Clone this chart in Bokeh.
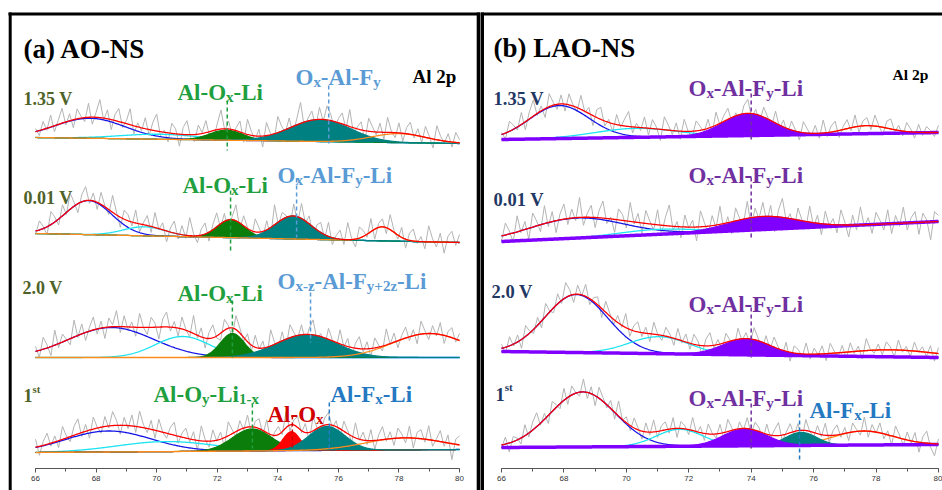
import numpy as np
from bokeh.plotting import figure
from bokeh.models import ColumnDataSource, Range1d, LinearAxis, SingleIntervalTicker
from bokeh.layouts import row
from bokeh.embed import file_html
from bokeh.resources import INLINE
from bokeh.core.properties import value, field

# ======================= DATA =======================
x_min, x_max = 66, 80

# ---------- panel (a) AO-NS ----------
a_title = "(a) AO-NS"
a_core = "Al 2p"
a_voltages = ["1.35 V", "0.01 V", "2.0 V", "1st"]

a135_kind = ["blue", "cyan", "green", "teal", "orange"]
a135_center = [67.8, 70.1, 72.3, 75.4, 78.0]
a135_height = [20, 5, 10, 22, 9]
a135_sigma = [1.15, 1.3, 0.55, 1.0, 0.9]
a135_base = [137, 143]
a135_noise = [3,-5,8,-2,12,-6,4,15,-3,7,-8,10,2,-4,14,-7,5,18,-2,9,-10,6,13,-5,3,16,-8,4,-3,11,-6,8,17,-4,2,-9,10,5,-12,7,14,-3,-7,9,1,12,-5,-10,6,19,-2,8,-6,3,11,-9,15,4,-4,7,-11,13,2,-6,16,5,-3,10,-8,6,21,-5,3,9,-7,12,-2,14,6,-9,4,11,-4,17,-6,2,8,-10,13,5,-3,9,-7,15,1,-5,10,-8,6,12,-3,7,-6,11,2,-9,14,4,-2,8,-5,10,3]

a001_kind = ["blue", "cyan", "green", "teal", "orange"]
a001_center = [67.75, 69.6, 72.45, 74.5, 77.45]
a001_height = [34, 9, 18, 23, 14]
a001_sigma = [0.77, 0.7, 0.45, 0.6, 0.4]
a001_base = [233, 242]
a001_noise = [-4,9,2,-8,13,5,-6,11,-2,16,4,-9,7,14,-3,8,-7,12,1,-5,17,3,-10,9,6,-4,13,-8,2,10,-6,15,-1,7,-11,4,12,-5,9,-3,18,2,-7,6,11,-9,5,14,-4,8,-12,3,16,-6,10,1,-8,13,4,-5,9,-10,20,-3,7,2,-9,12,-6,15,-2,8,-11,5,10,-4,14,-7,3,9,-5,17,1,-8,11,6,-3,13,-10,4,8,-6,15,2,-4,10,-9,7,12,-2,5,-7,16,3,-5,9,-11,6,11,-3,8]

a20_kind = ["blue", "cyan", "green", "teal", "orange"]
a20_center = [68.5, 70.85, 72.5, 74.95, 79.0]
a20_height = [30, 21, 24, 23, 24]
a20_sigma = [1.4, 0.9, 0.4, 1.0, 1.2]
a20_base = [357, 357]
a20_noise = [5,-7,12,3,-9,15,-4,8,1,-6,17,-2,10,-8,4,13,-5,7,-11,9,2,16,-6,11,-3,5,-9,14,0,-7,10,4,-12,8,15,-4,6,-8,12,1,-5,18,-3,9,-10,6,13,-2,-7,11,3,-9,14,5,-4,8,-6,12,-1,7,-11,16,2,-5,9,-8,13,4,-3,10,-7,6,15,-4,3,-9,11,1,-6,14,-2,8,-10,5,12,-3,7,-8,10,2,-5,16,-1,9,-7,4,11,-4,6,-9,13,3,-6,8,-2,12,-8,5,10,-3,7]

a1st_kind = ["blue", "cyan", "green", "red", "teal", "orange"]
a1st_center = [68.4, 70.3, 73.15, 74.45, 75.62, 78.2]
a1st_height = [21, 10, 22, 19, 24, 12]
a1st_sigma = [1.42, 1.6, 0.65, 0.28, 0.6, 1.3]
a1st_base = [452, 449]
a1st_noise = [8,-9,4,11,-3,6,-7,13,2,-5,9,15,-4,7,-8,12,1,-6,10,-2,14,5,-9,8,-3,11,-6,16,3,-4,9,-8,12,0,-5,7,13,-7,4,10,-3,8,-10,15,2,-6,11,-1,7,-9,14,4,-5,9,-2,12,-7,6,10,-4,13,-8,3,8,-3,16,-6,5,11,-2,9,-9,14,1,-5,7,12,-3,6,-8,10,3,-6,15,-1,8,-4,11,-9,5,13,-2,7,-7,10,4,-5,12,-10,6,9,-3,14,-6,2,11,-4,8,-16,5,9]

# marker positions (eV) of the assigned species
a135_marks = [72.33, 75.68]
a001_marks = [72.44, 74.62]
a20_marks = [72.5, 75.08]
a1st_marks = [73.16, 74.48, 75.7]

# ---------- panel (b) LAO-NS ----------
b_title = "(b) LAO-NS"
b_core = "Al 2p"
b_voltages = ["1.35 V", "0.01 V", "2.0 V", "1st"]

b135_kind = ["blue", "cyan", "orange", "purple"]
b135_center = [67.85, 70.3, 77.7, 73.9]
b135_height = [33, 9, 8, 22]
b135_sigma = [0.95, 1.3, 0.7, 0.8]
b135_base = [139, 132]
b135_noise = [2,-6,10,4,-3,12,-8,7,16,-2,5,-9,13,3,-5,9,-7,11,1,-4,14,-1,6,-10,8,12,-5,3,-8,10,-2,7,15,-6,4,-3,11,-7,9,2,-11,13,5,-4,8,-8,12,0,-6,10,4,-3,9,-7,13,-2,6,11,-5,3,-9,8,14,-4,5,-7,10,2,-5,12,-3,7,-6,9,1,-8,11,4,-2,8,-5,13,-4,6,10,-7,3,9,-3,12,-6,5,8,-4,11,1,-7,7,10,-2,5,-5,9,3,-6,8,-3,6,2,-4,7]

b001_kind = ["blue", "cyan", "purple"]
b001_center = [68.4, 71.0, 74.4]
b001_height = [20, 5, 13]
b001_sigma = [1.5, 1.2, 1.1]
b001_base = [241, 221]
b001_noise = [-5,12,3,-9,16,-2,8,-11,14,5,-7,18,-4,10,-12,6,15,-6,9,-3,20,-8,4,12,-10,7,17,-5,2,-13,11,6,-7,19,-2,9,-10,13,3,-6,15,-9,8,21,-4,5,-11,12,-1,7,-14,16,4,-8,10,-3,18,-7,6,-12,13,2,-5,17,-9,9,-2,14,-6,11,-15,7,19,-3,5,-10,12,1,-7,16,-4,8,-11,13,-1,6,-8,15,3,-12,10,-5,18,-2,7,-9,12,4,-6,14,-10,8,-3,16,-7,5,11,-12,9,2,-18,10,6]

b20_kind = ["blue", "cyan", "orange", "purple"]
b20_center = [68.4, 71.05, 78.5, 73.85]
b20_height = [58, 17, 7, 16]
b20_sigma = [1.0, 0.95, 1.4, 0.75]
b20_base = [351, 357]
b20_noise = [4,-6,9,-2,7,-9,11,2,-4,8,-7,13,1,-5,10,-3,15,6,-8,9,-1,12,-6,4,8,-9,11,3,-5,7,-2,14,-7,5,10,-4,6,-8,12,0,-5,9,3,-7,11,-2,8,-6,10,4,-9,7,13,-3,5,-6,9,1,-8,11,-2,6,-5,12,3,-7,8,-4,10,2,-6,9,-9,7,4,-3,11,-5,6,-1,8,-7,10,2,-4,7,-6,9,-2,5,-8,12,1,-3,6,-5,8,3,-7,10,-2,4,-6,9,-1,5,-4,7,-8,6]

b1st_kind = ["blue", "cyan", "teal", "orange", "purple"]
b1st_center = [68.6, 71.7, 75.6, 77.6, 73.8]
b1st_height = [55, 17, 13, 14, 17]
b1st_sigma = [1.05, 0.75, 0.5, 0.95, 0.7]
b1st_base = [447, 444]
b1st_noise = [-3,7,-9,5,2,-6,11,-4,8,14,-2,6,-8,10,3,-5,12,-7,9,1,-4,13,-6,7,-10,11,4,-3,8,-7,15,-1,6,-5,10,2,-8,9,-3,12,-6,5,8,-4,11,-9,7,3,-5,13,-2,6,-7,10,1,-4,9,-6,12,3,-8,7,-2,11,-5,8,4,-7,10,-3,6,13,-6,2,9,-4,7,-9,11,0,-5,8,-2,12,-7,5,10,-3,6,-8,9,2,-4,14,-6,7,-1,10,-5,4,-9,11,3,-6,8,-2,9,-10,6,12,-4,-12,5]

b135_marks = [74.0]
b001_marks = [74.0]
b20_marks = [74.0]
b1st_marks = [74.0, 75.55]

# ======================= STYLE / LAYOUT =======================
COL = {"blue": "#1414e6", "cyan": "#1ee3f0", "green": "#0b7d0b", "teal": "#008080",
       "orange": "#ff8a1c", "red": "#ff0000", "purple": "#8000ff"}
FILLED = {"green", "teal", "red", "purple"}
GREEN_T, BLUE_T, BLUE2_T, RED_T, PURP_T = "#1f9f3f", "#5b9bd5", "#2479c2", "#d00000", "#7030a0"
OLIVE, NAVY = "#4f6228", "#1f3864"
SERIF = "Liberation Serif"

W = {' ': 250, '(': 333, ')': 333, '-': 333, '.': 250, '+': 570, 'A': 722, 'F': 611, 'L': 667,
     'N': 722, 'O': 778, 'S': 556, 'V': 722, 'a': 500, 'b': 556, 'i': 278, 'l': 278, 'p': 556,
     's': 389, 't': 333, 'x': 500, 'y': 500, 'z': 444}


def tw(s):
    return sum(W.get(c, 500) for c in s)


def px2ev_a(px):
    return 66 + (px - 35) / 30.29


def px2ev_b(px):  # global px
    return 66 + (px - 501) / 31.21


def make_fig(width, x0, x1):
    p = figure(width=width, height=490, x_range=Range1d(x0, x1), y_range=Range1d(490, 0),
               output_backend="svg", toolbar_location=None,
               x_axis_location=None, y_axis_location=None, min_border=0)
    p.min_border_left = p.min_border_right = p.min_border_top = p.min_border_bottom = 0
    p.outline_line_color = None
    p.xgrid.visible = False
    p.ygrid.visible = False
    p.background_fill_color = "white"
    p.border_fill_color = "white"
    ax = LinearAxis(fixed_location=468, ticker=SingleIntervalTicker(interval=2, num_minor_ticks=2),
                    bounds=(x_min, x_max))
    ax.axis_line_color = "#555555"
    ax.major_tick_line_color = "#555555"
    ax.minor_tick_line_color = "#555555"
    ax.major_tick_in = 0
    ax.major_tick_out = 4
    ax.minor_tick_in = 0
    ax.minor_tick_out = 3
    ax.major_label_text_font = "Liberation Sans"
    ax.major_label_text_font_size = "8px"
    ax.major_label_text_color = "#333333"
    ax.major_label_standoff = 3
    p.add_layout(ax, "below")
    return p


def draw_spectrum(p, kinds, cen, hgt, sig, base, noise, order):
    x = np.linspace(x_min, x_max, 500)
    bg = base[0] + (base[1] - base[0]) * (x - x_min) / (x_max - x_min)
    comps = {}
    total = np.zeros_like(x)
    for k, c, h, s in zip(kinds, cen, hgt, sig):
        g = h * np.exp(-0.5 * ((x - c) / s) ** 2)
        comps[k] = g
        total += g
    xr = np.linspace(x_min, x_max, len(noise))
    raw = np.interp(xr, x, bg - total) - np.array(noise, dtype=float)
    p.line(xr, raw, line_color="#b4b4b4", line_width=1)
    for k in order:
        if k not in comps:
            continue
        g = comps[k]
        if k in FILLED:
            p.varea(x=x, y1=bg, y2=bg - g, fill_color=COL[k])
            p.line(x, bg - g, line_color=COL[k], line_width=1.2)
            if k == "purple":
                p.line(x, bg, line_color=COL[k], line_width=3.5)
        else:
            p.line(x, bg - g, line_color=COL[k], line_width=1.3)
    p.line(x, bg - total, line_color=COL["red"], line_width=1.3)


def add_rich(rows, segs, x0_px, y0, size, color, conv):
    off = 0.0
    for txt, mode in segs:
        if mode == 0:
            fs, dy = size, 0
        elif mode == 1:
            fs, dy = size * 0.65, size * 0.18
        else:
            fs, dy = size * 0.6, -size * 0.38
        rows["x"].append(conv(x0_px + off))
        rows["y"].append(y0 + dy)
        rows["text"].append(txt)
        rows["size"].append(f"{fs:.1f}px")
        rows["color"].append(color)
        off += tw(txt) * fs / 1000.0


def draw_marks(p, xs, y0s, y1s, colors):
    p.segment(x0=xs, y0=y0s, x1=xs, y1=y1s, line_color=colors, line_width=1.5, line_dash="4 3")


def draw_text(p, rows):
    src = ColumnDataSource(rows)
    p.text(x="x", y="y", text="text", source=src, text_font=value(SERIF), text_font_style="bold",
           text_font_size=field("size"), text_color=field("color"),
           text_baseline="alphabetic", text_align="left")


def volt_segs(v):
    return [("1", 0), ("st", 2)] if v == "1st" else [(v, 0)]


# ======================= PANEL A =======================
pa = make_fig(480, px2ev_a(0), px2ev_a(480))
order_a = ["blue", "cyan", "green", "red", "teal", "orange"]
for kd, c, h, s, b, n in [(a135_kind, a135_center, a135_height, a135_sigma, a135_base, a135_noise),
                          (a001_kind, a001_center, a001_height, a001_sigma, a001_base, a001_noise),
                          (a20_kind, a20_center, a20_height, a20_sigma, a20_base, a20_noise),
                          (a1st_kind, a1st_center, a1st_height, a1st_sigma, a1st_base, a1st_noise)]:
    draw_spectrum(pa, kd, c, h, s, b, n, order_a)

draw_marks(pa,
           a135_marks + a001_marks + a20_marks + a1st_marks,
           [100, 85, 190, 178, 300, 285, 403, 415, 402],
           [150, 143, 250, 237, 357, 342, 448, 448, 448],
           [GREEN_T, BLUE_T, GREEN_T, BLUE_T, GREEN_T, BLUE_T, GREEN_T, RED_T, BLUE2_T])

# frame
pa.segment(x0=[px2ev_a(8)], y0=[13.5], x1=[px2ev_a(480)], y1=[13.5], line_color="black", line_width=3)
pa.segment(x0=[px2ev_a(9.7), px2ev_a(478.2)], y0=[12, 12], x1=[px2ev_a(9.7), px2ev_a(478.2)],
           y1=[490, 490], line_color="black", line_width=[3, 4])

ra = {"x": [], "y": [], "text": [], "size": [], "color": []}
add_rich(ra, [(a_title, 0)], 23, 48, 27, "black", px2ev_a)
add_rich(ra, [(a_core, 0)], 412, 76, 19, "black", px2ev_a)
for v, (xx, yy) in zip(a_voltages, [(23, 98), (23, 197), (22, 287), (23, 395)]):
    add_rich(ra, volt_segs(v), xx, yy, 18, OLIVE, px2ev_a)
AlOxLi = [("Al-O", 0), ("x", 1), ("-Li", 0)]
add_rich(ra, AlOxLi, 177, 92, 23, GREEN_T, px2ev_a)
add_rich(ra, [("O", 0), ("x", 1), ("-Al-F", 0), ("y", 1)], 295, 77, 23, BLUE_T, px2ev_a)
add_rich(ra, AlOxLi, 182, 185, 23, GREEN_T, px2ev_a)
add_rich(ra, [("O", 0), ("x", 1), ("-Al-F", 0), ("y", 1), ("-Li", 0)], 277, 175, 23, BLUE_T, px2ev_a)
add_rich(ra, AlOxLi, 177, 293, 23, GREEN_T, px2ev_a)
add_rich(ra, [("O", 0), ("x-z", 1), ("-Al-F", 0), ("y+2z", 1), ("-Li", 0)], 277, 281, 23, BLUE_T, px2ev_a)
add_rich(ra, [("Al-O", 0), ("y", 1), ("-Li", 0), ("1-x", 1)], 153, 394, 23, GREEN_T, px2ev_a)
add_rich(ra, [("Al-O", 0), ("x", 1)], 267, 414, 23, RED_T, px2ev_a)
add_rich(ra, [("Al-F", 0), ("x", 1), ("-Li", 0)], 330, 394, 23, BLUE2_T, px2ev_a)
draw_text(pa, ra)

# ======================= PANEL B =======================
conv_b = px2ev_b
pb = make_fig(462, px2ev_b(480), px2ev_b(942))
order_b = ["blue", "cyan", "orange", "teal", "purple"]
for kd, c, h, s, b, n in [(b135_kind, b135_center, b135_height, b135_sigma, b135_base, b135_noise),
                          (b001_kind, b001_center, b001_height, b001_sigma, b001_base, b001_noise),
                          (b20_kind, b20_center, b20_height, b20_sigma, b20_base, b20_noise),
                          (b1st_kind, b1st_center, b1st_height, b1st_sigma, b1st_base, b1st_noise)]:
    draw_spectrum(pb, kd, c, h, s, b, n, order_b)

draw_marks(pb,
           b135_marks + b001_marks + b20_marks + b1st_marks,
           [93, 177, 307, 403, 413],
           [140, 240, 357, 448, 460],
           [PURP_T, PURP_T, PURP_T, PURP_T, BLUE2_T])

pb.segment(x0=[px2ev_b(480)], y0=[13.5], x1=[px2ev_b(942)], y1=[13.5], line_color="black", line_width=3)
pb.segment(x0=[px2ev_b(481.5)], y0=[12], x1=[px2ev_b(481.5)], y1=[490], line_color="black", line_width=4)

rb = {"x": [], "y": [], "text": [], "size": [], "color": []}
add_rich(rb, [(b_title, 0)], 493, 47, 27, "black", conv_b)
add_rich(rb, [(b_core, 0)], 892, 74, 15.5, "black", conv_b)
for v, (xx, yy) in zip(b_voltages, [(493, 98), (493, 199), (491, 291), (495, 394)]):
    add_rich(rb, volt_segs(v), xx, yy, 18.5, NAVY, conv_b)
OAFL = [("O", 0), ("x", 1), ("-Al-F", 0), ("y", 1), ("-Li", 0)]
for yy in [88, 175, 304, 398]:
    add_rich(rb, OAFL, 688, yy, 23, PURP_T, conv_b)
add_rich(rb, [("Al-F", 0), ("x", 1), ("-Li", 0)], 809, 410, 23, BLUE2_T, conv_b)
draw_text(pb, rb)

layout = row(pa, pb)
open("out.html", "w").write(file_html(layout, INLINE))
